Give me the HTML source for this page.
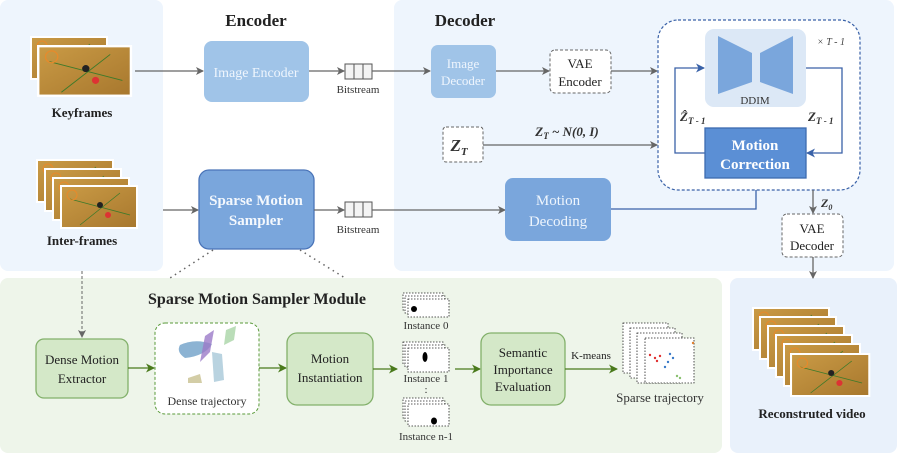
<!DOCTYPE html>
<html><head><meta charset="utf-8"><style>
body{margin:0;background:#fff}
svg{display:block;font-family:"Liberation Serif",serif}
</style></head><body>
<svg width="897" height="453" viewBox="0 0 897 453" xmlns="http://www.w3.org/2000/svg">
<defs>
<marker id="ag" markerWidth="8" markerHeight="8" refX="7" refY="4" orient="auto" markerUnits="userSpaceOnUse"><path d="M0,0 L8,4 L0,8 L2,4z" fill="#666"/></marker>
<marker id="ab" markerWidth="9" markerHeight="9" refX="8" refY="4.5" orient="auto" markerUnits="userSpaceOnUse"><path d="M0,0 L9,4.5 L0,9 L2.5,4.5z" fill="#3a62a8"/></marker>
<marker id="agr" markerWidth="9" markerHeight="9" refX="8" refY="4.5" orient="auto" markerUnits="userSpaceOnUse"><path d="M0,0 L9,4.5 L0,9 L2.5,4.5z" fill="#4a7a1c"/></marker>
<linearGradient id="court" x1="0" y1="0" x2="1" y2="1"><stop offset="0" stop-color="#c99a45"/><stop offset="1" stop-color="#a8782e"/></linearGradient>
<g id="frame"><rect width="78" height="44" fill="#fff"/><rect x="2" y="2" width="74" height="40" fill="url(#court)"/><path d="M10,14 L70,30 M20,40 L60,8" stroke="#3d7a2a" stroke-width="0.8"/><circle cx="40" cy="20" r="3" fill="#222"/><circle cx="48" cy="30" r="3" fill="#d33"/><circle cx="12" cy="10" r="5" fill="none" stroke="#e88a2a"/></g>
</defs>
<rect x="0" y="0" width="163" height="271" rx="8" fill="#eef5fd"/>
<rect x="394" y="0" width="500" height="271" rx="8" fill="#eef5fd"/>
<rect x="0" y="278" width="722" height="175" rx="8" fill="#eef5ea"/>
<rect x="730" y="278" width="167" height="175" rx="8" fill="#e9f1fb"/>

<text x="256" y="26" font-size="17" font-weight="bold" text-anchor="middle" fill="#222">Encoder</text>
<text x="465" y="26" font-size="17" font-weight="bold" text-anchor="middle" fill="#222">Decoder</text>

<use href="#frame" x="30" y="36"/>
<use href="#frame" x="37" y="45" transform="translate(37 45) scale(1.22 1.18) translate(-37 -45)"/>
<text x="82" y="117" font-size="13" font-weight="bold" text-anchor="middle" fill="#222">Keyframes</text>
<use href="#frame" x="36" y="159"/>
<use href="#frame" x="44" y="168"/>
<use href="#frame" x="52" y="177"/>
<use href="#frame" x="60" y="185"/>
<text x="82" y="245" font-size="13" font-weight="bold" text-anchor="middle" fill="#222">Inter-frames</text>

<line x1="135" y1="71" x2="203" y2="71" stroke="#666" stroke-width="1.3" marker-end="url(#ag)"/>
<rect x="204" y="41" width="105" height="61" rx="8" fill="#a0c4e8"/>
<text x="256" y="77" font-size="14" text-anchor="middle" fill="#eef5fd">Image Encoder</text>
<line x1="309" y1="71" x2="344" y2="71" stroke="#666" stroke-width="1.3" marker-end="url(#ag)"/>
<rect x="345" y="64" width="27" height="15" fill="#f4f4f4" stroke="#555"/><line x1="354" y1="64" x2="354" y2="79" stroke="#555"/><line x1="363" y1="64" x2="363" y2="79" stroke="#555"/>
<text x="358" y="93" font-size="11" text-anchor="middle" fill="#333">Bitstream</text>
<line x1="372" y1="71" x2="430" y2="71" stroke="#666" stroke-width="1.3" marker-end="url(#ag)"/>

<line x1="163" y1="210" x2="198" y2="210" stroke="#666" stroke-width="1.3" marker-end="url(#ag)"/>
<rect x="199" y="170" width="115" height="79" rx="10" fill="#7aa6dc" stroke="#4a74b8" stroke-width="1.3"/>
<text x="256" y="205" font-size="15" font-weight="bold" text-anchor="middle" fill="#f4f8fd">Sparse Motion</text>
<text x="256" y="225" font-size="15" font-weight="bold" text-anchor="middle" fill="#f4f8fd">Sampler</text>
<line x1="314" y1="210" x2="344" y2="210" stroke="#666" stroke-width="1.3" marker-end="url(#ag)"/>
<rect x="345" y="202" width="27" height="15" fill="#f4f4f4" stroke="#555"/><line x1="354" y1="202" x2="354" y2="217" stroke="#555"/><line x1="363" y1="202" x2="363" y2="217" stroke="#555"/>
<text x="358" y="233" font-size="11" text-anchor="middle" fill="#333">Bitstream</text>
<line x1="372" y1="210" x2="505" y2="210" stroke="#666" stroke-width="1.3" marker-end="url(#ag)"/>
<path d="M213,250 L170,278 M300,250 L345,278" stroke="#666" stroke-width="1.5" stroke-dasharray="1.5 4"/>

<rect x="431" y="45" width="65" height="53" rx="7" fill="#a0c4e8"/>
<text x="463" y="68" font-size="13" text-anchor="middle" fill="#eef5fd">Image</text>
<text x="463" y="85" font-size="13" text-anchor="middle" fill="#eef5fd">Decoder</text>
<line x1="496" y1="71" x2="549" y2="71" stroke="#666" stroke-width="1.3" marker-end="url(#ag)"/>
<rect x="550" y="50" width="61" height="43" rx="5" fill="#fff" stroke="#666" stroke-dasharray="3 2"/>
<text x="580" y="68" font-size="13" text-anchor="middle" fill="#222">VAE</text>
<text x="580" y="86" font-size="13" text-anchor="middle" fill="#222">Encoder</text>
<line x1="611" y1="71" x2="657" y2="71" stroke="#666" stroke-width="1.3" marker-end="url(#ag)"/>
<rect x="443" y="127" width="40" height="35" rx="3" fill="#fff" stroke="#666" stroke-dasharray="3 2"/>
<text x="459" y="151" font-size="17" font-weight="bold" font-style="italic" text-anchor="middle" fill="#333">Z<tspan font-size="11" dy="4">T</tspan></text>
<line x1="483" y1="145" x2="657" y2="145" stroke="#666" stroke-width="1.3" marker-end="url(#ag)"/>
<text x="567" y="136" font-size="13" font-weight="bold" font-style="italic" text-anchor="middle" fill="#333">Z<tspan font-size="9" dy="3">T</tspan><tspan dy="-3"> ~ N(0, I)</tspan></text>
<rect x="505" y="178" width="106" height="63" rx="8" fill="#7aa6dc"/>
<text x="558" y="205" font-size="15" text-anchor="middle" fill="#eef5fd">Motion</text>
<text x="558" y="226" font-size="15" text-anchor="middle" fill="#eef5fd">Decoding</text>
<path d="M611,209 L756,209 L756,179" fill="none" stroke="#3a62a8" stroke-width="1.3" marker-end="url(#ab)"/>

<rect x="658" y="20" width="202" height="170" rx="20" fill="#fff" stroke="#3a62a8" stroke-width="1.2" stroke-dasharray="3 2"/>
<rect x="705" y="29" width="101" height="78" rx="9" fill="#dce8f6"/>
<path d="M718,36 L752,53 L752,82 L718,94z M793,36 L760,53 L760,82 L793,94z" fill="#7aa6dc"/>
<text x="755" y="104" font-size="11" text-anchor="middle" fill="#333">DDIM</text>
<text x="831" y="45" font-size="10" font-style="italic" text-anchor="middle" fill="#444">× T - 1</text>
<path d="M705,153 L675,153 L675,68 L704,68" fill="none" stroke="#3a62a8" stroke-width="1.3" marker-end="url(#ab)"/>
<path d="M806,68 L842,68 L842,153 L807,153" fill="none" stroke="#3a62a8" stroke-width="1.3" marker-end="url(#ab)"/>
<rect x="705" y="128" width="101" height="50" fill="#5b8fd5" stroke="#3d6bb0" stroke-width="1.3"/>
<text x="755" y="150" font-size="15" font-weight="bold" text-anchor="middle" fill="#fff">Motion</text>
<text x="755" y="169" font-size="15" font-weight="bold" text-anchor="middle" fill="#fff">Correction</text>
<text x="680" y="121" font-size="13" font-weight="bold" font-style="italic" fill="#333">Ẑ<tspan font-size="9" dy="3">T - 1</tspan></text>
<text x="808" y="121" font-size="13" font-weight="bold" font-style="italic" fill="#333">Z<tspan font-size="9" dy="3">T - 1</tspan></text>
<line x1="813" y1="190" x2="813" y2="213" stroke="#666" stroke-width="1.3" marker-end="url(#ag)"/>
<text x="821" y="207" font-size="12" font-weight="bold" font-style="italic" fill="#333">Z<tspan font-size="8" dy="3">0</tspan></text>
<rect x="782" y="214" width="61" height="43" rx="5" fill="#fff" stroke="#666" stroke-dasharray="3 2"/>
<text x="812" y="233" font-size="13" text-anchor="middle" fill="#222">VAE</text>
<text x="812" y="250" font-size="13" text-anchor="middle" fill="#222">Decoder</text>
<line x1="813" y1="257" x2="813" y2="278" stroke="#666" stroke-width="1.3" marker-end="url(#ag)"/>

<use href="#frame" x="752" y="307"/>
<use href="#frame" x="759" y="316"/>
<use href="#frame" x="767" y="325"/>
<use href="#frame" x="775" y="334"/>
<use href="#frame" x="783" y="343"/>
<use href="#frame" x="790" y="353" transform="translate(790 353) scale(1.03 1.0) translate(-790 -353)"/>
<text x="812" y="418" font-size="13" font-weight="bold" text-anchor="middle" fill="#222">Reconstruted video</text>

<text x="257" y="304" font-size="16" font-weight="bold" text-anchor="middle" fill="#222">Sparse Motion Sampler Module</text>
<line x1="82" y1="271" x2="82" y2="337" stroke="#666" stroke-width="1" stroke-dasharray="3 2" marker-end="url(#ag)"/>
<rect x="36" y="339" width="92" height="59" rx="8" fill="#d4e8c8" stroke="#82b06a" stroke-width="1.3"/>
<text x="82" y="364" font-size="13" text-anchor="middle" fill="#222">Dense Motion</text>
<text x="82" y="383" font-size="13" text-anchor="middle" fill="#222">Extractor</text>
<line x1="128" y1="368" x2="154" y2="368" stroke="#4a7a1c" stroke-width="1.3" marker-end="url(#agr)"/>
<rect x="155" y="323" width="104" height="91" rx="10" fill="#fff" stroke="#5a9a3a" stroke-dasharray="3 2"/>
<path d="M180,345 Q195,338 212,344 Q205,356 185,358 Q176,352 180,345z" fill="#6fa0c8" opacity=".8"/>
<path d="M205,336 L214,330 L210,352 L200,362z" fill="#9b7ac8" opacity=".8"/>
<path d="M226,330 L236,326 L234,340 L224,345z" fill="#9ccf9a" opacity=".7"/>
<path d="M212,352 L222,354 L224,380 L214,382z" fill="#a8c8d8" opacity=".8"/>
<path d="M188,378 L200,374 L202,383 L188,383z" fill="#c8c090" opacity=".8"/>
<text x="207" y="405" font-size="12" text-anchor="middle" fill="#333">Dense trajectory</text>
<line x1="259" y1="368" x2="286" y2="368" stroke="#4a7a1c" stroke-width="1.3" marker-end="url(#agr)"/>
<rect x="287" y="333" width="86" height="72" rx="10" fill="#d4e8c8" stroke="#82b06a" stroke-width="1.3"/>
<text x="330" y="363" font-size="13" text-anchor="middle" fill="#222">Motion</text>
<text x="330" y="382" font-size="13" text-anchor="middle" fill="#222">Instantiation</text>
<line x1="373" y1="369" x2="397" y2="369" stroke="#4a7a1c" stroke-width="1.3" marker-end="url(#agr)"/>
<g fill="#fff" stroke="#222" stroke-width="0.8" stroke-dasharray="1.5 1.5">
<rect x="403" y="293" width="40" height="17"/><rect x="405" y="296" width="40" height="17"/><rect x="408" y="299" width="41" height="18"/>
<rect x="403" y="342" width="40" height="22"/><rect x="405" y="345" width="40" height="22"/><rect x="408" y="348" width="41" height="24"/>
<rect x="403" y="398" width="40" height="20"/><rect x="405" y="401" width="40" height="20"/><rect x="408" y="404" width="41" height="22"/>
</g>
<circle cx="414" cy="309" r="3" fill="#000"/>
<ellipse cx="425" cy="357" rx="2.5" ry="5" fill="#000"/>
<ellipse cx="434" cy="421" rx="3" ry="3.5" fill="#000"/>
<text x="426" y="329" font-size="11" text-anchor="middle" fill="#333">Instance 0</text>
<text x="426" y="382" font-size="11" text-anchor="middle" fill="#333">Instance 1</text>
<text x="426" y="393" font-size="11" text-anchor="middle" fill="#333">:</text>
<text x="426" y="440" font-size="11" text-anchor="middle" fill="#333">Instance n-1</text>
<line x1="455" y1="369" x2="480" y2="369" stroke="#4a7a1c" stroke-width="1.3" marker-end="url(#agr)"/>
<rect x="481" y="333" width="84" height="72" rx="10" fill="#d4e8c8" stroke="#82b06a" stroke-width="1.3"/>
<text x="523" y="357" font-size="13" text-anchor="middle" fill="#222">Semantic</text>
<text x="523" y="374" font-size="13" text-anchor="middle" fill="#222">Importance</text>
<text x="523" y="391" font-size="13" text-anchor="middle" fill="#222">Evaluation</text>
<line x1="565" y1="369" x2="617" y2="369" stroke="#4a7a1c" stroke-width="1.3" marker-end="url(#agr)"/>
<text x="591" y="359" font-size="11" text-anchor="middle" fill="#222">K-means</text>
<g fill="#fff" stroke="#222" stroke-width="0.8" stroke-dasharray="1.5 1.5">
<rect x="623" y="323" width="45" height="50"/><rect x="630" y="328" width="45" height="50"/><rect x="637" y="333" width="45" height="50"/><rect x="645" y="338" width="49" height="45"/>
</g>
<g fill="#e03030"><circle cx="650" cy="355" r="1.2"/><circle cx="655" cy="358" r="1.2"/><circle cx="660" cy="356" r="1.2"/><circle cx="657" cy="361" r="1.2"/></g>
<g fill="#3a7ac8"><circle cx="670" cy="354" r="1.2"/><circle cx="673" cy="358" r="1.2"/><circle cx="668" cy="362" r="1.2"/><circle cx="665" cy="367" r="1.2"/></g>
<g fill="#8ac070"><circle cx="677" cy="376" r="1.2"/><circle cx="680" cy="378" r="1.2"/></g>
<circle cx="693" cy="343" r="1.2" fill="#e08030"/>
<text x="660" y="402" font-size="13" text-anchor="middle" fill="#333">Sparse trajectory</text>
</svg>
</body></html>
